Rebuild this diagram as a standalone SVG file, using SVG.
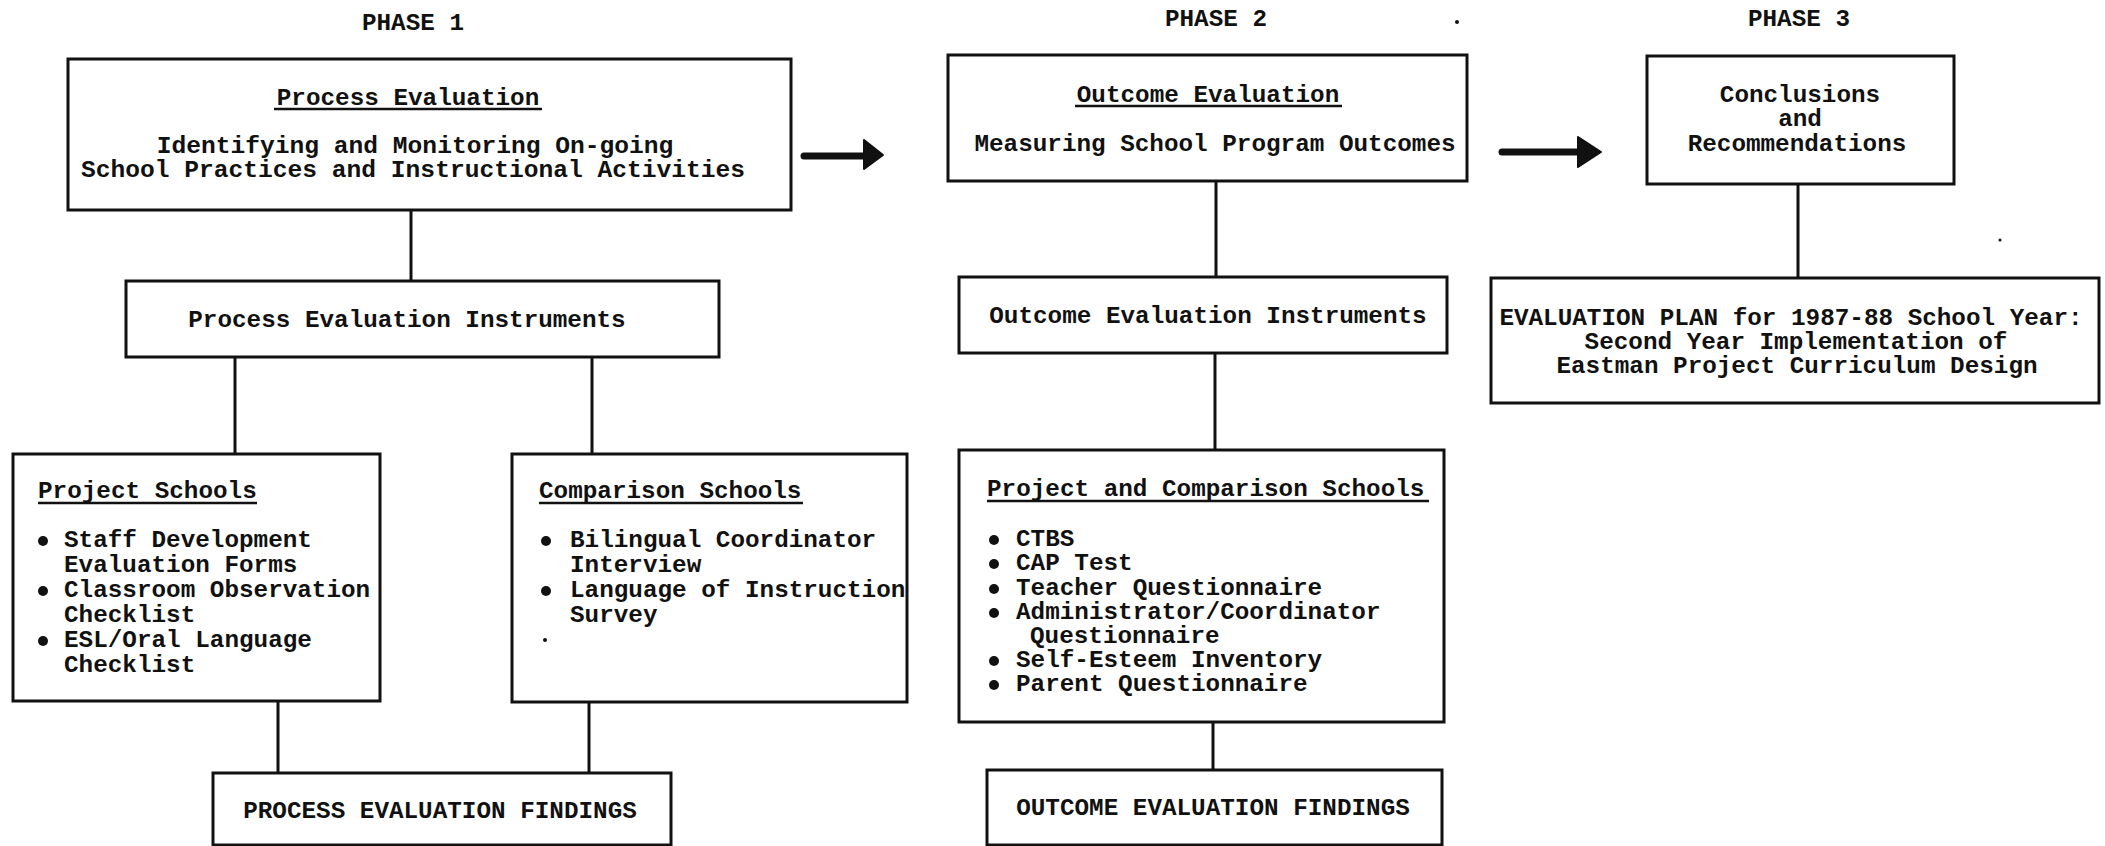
<svg xmlns="http://www.w3.org/2000/svg" width="2105" height="846" viewBox="0 0 2105 846">
<style>
text{font-family:"Liberation Mono","Courier New",monospace;font-size:24.3px;font-weight:bold;fill:#111}
.c{text-anchor:middle}
.box{fill:#fff;stroke:#111;stroke-width:3}
.ln{stroke:#111;stroke-width:3;fill:none}
.ul{stroke:#111;stroke-width:2.5}
.dot{fill:#111}
</style>
<rect width="2105" height="846" fill="#fff"/>
<g id="labels">
<text class="c" x="413" y="30">PHASE 1</text>
<text class="c" x="1216" y="26">PHASE 2</text>
<text class="c" x="1799" y="26">PHASE 3</text>
<circle class="dot" cx="1457" cy="22" r="2"/>
<circle class="dot" cx="2000" cy="240" r="1.5"/>
</g>
<g id="connectors">
<line class="ln" x1="411" y1="210" x2="411" y2="281"/>
<line class="ln" x1="235" y1="357" x2="235" y2="454"/>
<line class="ln" x1="592" y1="357" x2="592" y2="454"/>
<line class="ln" x1="278" y1="701" x2="278" y2="773"/>
<line class="ln" x1="589" y1="702" x2="589" y2="773"/>
<line class="ln" x1="1216" y1="181" x2="1216" y2="277"/>
<line class="ln" x1="1215" y1="353" x2="1215" y2="450"/>
<line class="ln" x1="1213" y1="722" x2="1213" y2="770"/>
<line class="ln" x1="1798" y1="184" x2="1798" y2="278"/>
<path d="M804 156 H866" stroke="#111" stroke-width="7" stroke-linecap="round"/>
<path d="M864 140 L883 155 L864 169 Z" fill="#111" stroke="#111" stroke-width="2" stroke-linejoin="round"/>
<path d="M1502 152 H1580" stroke="#111" stroke-width="7" stroke-linecap="round"/>
<path d="M1578 137 L1601 152 L1578 167 Z" fill="#111" stroke="#111" stroke-width="2" stroke-linejoin="round"/>
</g>
<g id="phase1">
<rect class="box" x="68" y="59" width="723" height="151"/>
<text class="c" x="408" y="105">Process Evaluation</text>
<line class="ul" x1="274" y1="109" x2="542" y2="109"/>
<text class="c" x="415" y="153" style="font-size:24.6px">Identifying and Monitoring On-going</text>
<text class="c" x="413" y="177" style="font-size:24.6px">School Practices and Instructional Activities</text>
</g>
<g id="phase2">
<rect class="box" x="948" y="55" width="519" height="126"/>
<text class="c" x="1208" y="102">Outcome Evaluation</text>
<line class="ul" x1="1075" y1="106" x2="1342" y2="106"/>
<text class="c" x="1215" y="151">Measuring School Program Outcomes</text>
</g>
<g id="phase3">
<rect class="box" x="1647" y="56" width="307" height="128"/>
<text class="c" x="1800" y="102">Conclusions</text>
<text class="c" x="1800" y="126">and</text>
<text class="c" x="1797" y="151">Recommendations</text>
</g>
<g id="process-instruments">
<rect class="box" x="126" y="281" width="593" height="76"/>
<text class="c" x="407" y="327">Process Evaluation Instruments</text>
</g>
<g id="outcome-instruments">
<rect class="box" x="959" y="277" width="488" height="76"/>
<text class="c" x="1208" y="323">Outcome Evaluation Instruments</text>
</g>
<g id="evaluation-plan">
<rect class="box" x="1491" y="278" width="608" height="125"/>
<text class="c" x="1791" y="325">EVALUATION PLAN for 1987-88 School Year:</text>
<text class="c" x="1796" y="349">Second Year Implementation of</text>
<text class="c" x="1797" y="373">Eastman Project Curriculum Design</text>
</g>
<g id="project-schools">
<rect class="box" x="13" y="454" width="367" height="247"/>
<text x="38" y="498">Project Schools</text>
<line class="ul" x1="38" y1="503" x2="257" y2="503"/>
<circle class="dot" cx="43" cy="541" r="5"/>
<text x="64" y="547">Staff Development</text>
<text x="64" y="572">Evaluation Forms</text>
<circle class="dot" cx="43" cy="591" r="5"/>
<text x="64" y="597">Classroom Observation</text>
<text x="64" y="622">Checklist</text>
<circle class="dot" cx="43" cy="641" r="5"/>
<text x="64" y="647">ESL/Oral Language</text>
<text x="64" y="672">Checklist</text>
</g>
<g id="comparison-schools">
<rect class="box" x="512" y="454" width="395" height="248"/>
<text x="539" y="498">Comparison Schools</text>
<line class="ul" x1="539" y1="503" x2="803" y2="503"/>
<circle class="dot" cx="546" cy="541" r="5"/>
<text x="570" y="547">Bilingual Coordinator</text>
<text x="570" y="572">Interview</text>
<circle class="dot" cx="546" cy="591" r="5"/>
<text x="570" y="597">Language of Instruction</text>
<text x="570" y="622">Survey</text>
<circle class="dot" cx="545" cy="640" r="2"/>
</g>
<g id="project-comparison-schools">
<rect class="box" x="959" y="450" width="485" height="272"/>
<text x="987" y="496">Project and Comparison Schools</text>
<line class="ul" x1="987" y1="501" x2="1429" y2="501"/>
<circle class="dot" cx="994" cy="540" r="5"/>
<text x="1016" y="546">CTBS</text>
<circle class="dot" cx="994" cy="564" r="5"/>
<text x="1016" y="570">CAP Test</text>
<circle class="dot" cx="994" cy="589" r="5"/>
<text x="1016" y="595">Teacher Questionnaire</text>
<circle class="dot" cx="994" cy="613" r="5"/>
<text x="1016" y="619">Administrator/Coordinator</text>
<text x="1030" y="643">Questionnaire</text>
<circle class="dot" cx="994" cy="661" r="5"/>
<text x="1016" y="667">Self-Esteem Inventory</text>
<circle class="dot" cx="994" cy="685" r="5"/>
<text x="1016" y="691">Parent Questionnaire</text>
</g>
<g id="process-findings">
<rect class="box" x="213" y="773" width="458" height="72"/>
<text class="c" x="440" y="818">PROCESS EVALUATION FINDINGS</text>
</g>
<g id="outcome-findings">
<rect class="box" x="987" y="770" width="455" height="75"/>
<text class="c" x="1213" y="815">OUTCOME EVALUATION FINDINGS</text>
</g>
</svg>
